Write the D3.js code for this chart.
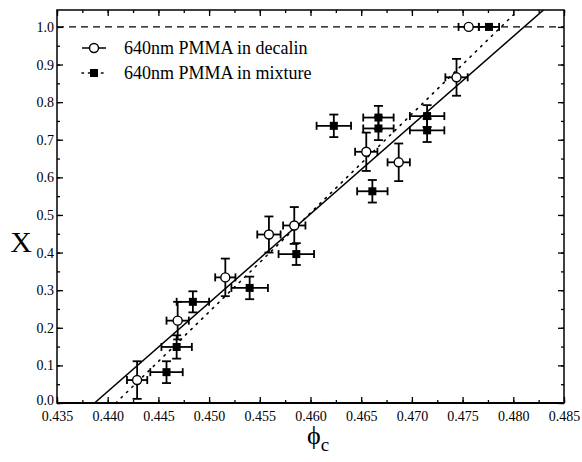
<!DOCTYPE html>
<html>
<head>
<meta charset="utf-8">
<script src="https://cdn.jsdelivr.net/npm/d3@7"></script>
<style>
  body { margin: 0; background: #fff; }
  svg { display: block; }
  svg text { font-family: "Liberation Serif", "Times New Roman", serif; }
</style>
</head>
<body>
<svg id="chart" width="582" height="462"></svg>
<script>
// open circles: 640nm PMMA in decalin
const decalinPhi    = [0.4429, 0.4469, 0.4516, 0.4559, 0.4584, 0.4655, 0.4687, 0.4744, 0.4756];
const decalinX      = [0.061, 0.219, 0.334, 0.448, 0.472, 0.668, 0.640, 0.866, 1.0];
const decalinPhiErr = [0.0010, 0.0011, 0.0010, 0.00115, 0.0011, 0.0011, 0.0011, 0.0011, 0.0010];
const decalinXErr   = [0.050, 0.050, 0.050, 0.048, 0.049, 0.051, 0.050, 0.049, 0];

// filled squares: 640nm PMMA in mixture
const mixturePhi    = [0.4458, 0.4468, 0.4484, 0.4540, 0.4586, 0.4623, 0.4661, 0.4667, 0.4667, 0.4715, 0.4715, 0.4776];
const mixtureX      = [0.082, 0.149, 0.269, 0.306, 0.396, 0.737, 0.563, 0.759, 0.730, 0.763, 0.725, 1.0];
const mixturePhiErr = [0.0016, 0.0015, 0.0016, 0.0018, 0.00175, 0.0017, 0.0015, 0.0015, 0.0015, 0.0017, 0.0017, 0.0010];
const mixtureXErr   = [0.029, 0.031, 0.028, 0.030, 0.029, 0.030, 0.030, 0.031, 0.031, 0.029, 0.031, 0];

// linear fits (end points)
const decalinFit = [[0.4387, 0], [0.4831, 1.048]];
const mixtureFit = [[0.4408, 0], [0.4805, 1.045]];

const legendLabels = ["640nm PMMA in decalin", "640nm PMMA in mixture"];
const xTicks = d3.range(0, 11).map(i => 0.435 + i * 0.005);
const yTicks = d3.range(0, 11).map(i => i / 10);

const W = 582, H = 462;
const margin = { top: 10, right: 18, bottom: 59, left: 57 };
const iw = W - margin.left - margin.right;
const ih = H - margin.top - margin.bottom;
const FONT = '"Liberation Serif", "Times New Roman", serif';

const svg = d3.select("#chart");
const g = svg.append("g").attr("transform", `translate(${margin.left},${margin.top})`);

const x = d3.scaleLinear().domain([0.435, 0.485]).range([0, iw]);
const y = d3.scaleLinear().domain([0, 1.045]).range([ih, 0]);

svg.append("defs").append("clipPath").attr("id", "plot")
  .append("rect").attr("width", iw).attr("height", ih);

const xMinor = d3.range(0, 21).map(i => 0.435 + i * 0.0025);
const yMinor = d3.range(0, 21).map(i => i * 0.05);

// axes, ticks pointing inwards
function styleAxis(sel) {
  sel.attr("font-family", FONT).attr("font-size", 14);
  sel.selectAll(".domain").remove();
  sel.selectAll("line").attr("stroke", "#000").attr("stroke-width", 1.3);
  sel.selectAll("text").attr("fill", "#000");
}

g.append("g").attr("transform", `translate(0,${ih})`)
  .call(d3.axisBottom(x).tickValues(xMinor).tickSize(-3).tickFormat(""))
  .call(styleAxis);
g.append("g").attr("transform", `translate(0,${ih})`)
  .call(d3.axisBottom(x).tickValues(xTicks).tickSize(-6).tickPadding(8).tickFormat(d3.format(".3f")))
  .call(styleAxis);
g.append("g")
  .call(d3.axisTop(x).tickValues(xMinor).tickSize(-3).tickFormat(""))
  .call(styleAxis);
g.append("g")
  .call(d3.axisTop(x).tickValues(xTicks).tickSize(-6).tickFormat(""))
  .call(styleAxis);

g.append("g")
  .call(d3.axisLeft(y).tickValues(yMinor).tickSize(-3).tickFormat(""))
  .call(styleAxis);
g.append("g")
  .call(d3.axisLeft(y).tickValues(yTicks).tickSize(-6).tickPadding(3).tickFormat(d3.format(".1f")))
  .call(styleAxis)
  .call(s => s.selectAll(".tick text").filter(d => d === 0).attr("dy", "0.1em"));
g.append("g").attr("transform", `translate(${iw},0)`)
  .call(d3.axisRight(y).tickValues(yMinor).tickSize(-3).tickFormat(""))
  .call(styleAxis);
g.append("g").attr("transform", `translate(${iw},0)`)
  .call(d3.axisRight(y).tickValues(yTicks).tickSize(-6).tickFormat(""))
  .call(styleAxis);

// frame
g.append("rect").attr("width", iw).attr("height", ih)
  .attr("fill", "none").attr("stroke", "#000").attr("stroke-width", 1.5);
g.append("line").attr("x1", 0).attr("x2", iw).attr("y1", ih).attr("y2", ih)
  .attr("stroke", "#000").attr("stroke-width", 2.2);

const plot = g.append("g").attr("clip-path", "url(#plot)");

// X = 1 reference
plot.append("line")
  .attr("x1", 0).attr("x2", iw).attr("y1", y(1)).attr("y2", y(1))
  .attr("stroke", "#000").attr("stroke-width", 1.3).attr("stroke-dasharray", "7,5");

const line = d3.line().x(d => x(d[0])).y(d => y(d[1]));
plot.append("path").attr("d", line(decalinFit))
  .attr("fill", "none").attr("stroke", "#000").attr("stroke-width", 1.5);
plot.append("path").attr("d", line(mixtureFit))
  .attr("fill", "none").attr("stroke", "#000").attr("stroke-width", 1.6)
  .attr("stroke-dasharray", "1.5,6").attr("stroke-linecap", "round");

function errorBars(phi, vals, phiErr, xErr) {
  const eg = g.append("g").attr("stroke", "#000").attr("stroke-width", 1.8).attr("fill", "none");
  phi.forEach((p, i) => {
    const cx = x(p), cy = y(vals[i]);
    const x0 = x(p - phiErr[i]), x1 = x(p + phiErr[i]);
    eg.append("line").attr("x1", x0).attr("x2", x1).attr("y1", cy).attr("y2", cy);
    eg.append("line").attr("x1", x0).attr("x2", x0).attr("y1", cy - 4).attr("y2", cy + 4);
    eg.append("line").attr("x1", x1).attr("x2", x1).attr("y1", cy - 4).attr("y2", cy + 4);
    if (xErr[i] > 0) {
      const y0 = y(vals[i] - xErr[i]), y1 = y(vals[i] + xErr[i]);
      eg.append("line").attr("x1", cx).attr("x2", cx).attr("y1", y0).attr("y2", y1);
      eg.append("line").attr("x1", cx - 4.5).attr("x2", cx + 4.5).attr("y1", y0).attr("y2", y0);
      eg.append("line").attr("x1", cx - 4.5).attr("x2", cx + 4.5).attr("y1", y1).attr("y2", y1);
    }
  });
}
errorBars(decalinPhi, decalinX, decalinPhiErr, decalinXErr);
errorBars(mixturePhi, mixtureX, mixturePhiErr, mixtureXErr);

g.append("g").selectAll("circle").data(decalinPhi).join("circle")
  .attr("cx", d => x(d)).attr("cy", (d, i) => y(decalinX[i])).attr("r", 4.5)
  .attr("fill", "#fff").attr("stroke", "#000").attr("stroke-width", 1.4);
g.append("g").selectAll("rect").data(mixturePhi).join("rect")
  .attr("x", d => x(d) - 4).attr("y", (d, i) => y(mixtureX[i]) - 4)
  .attr("width", 8).attr("height", 8).attr("fill", "#000");

// legend
const leg = svg.append("g");
const rows = [48, 73];
leg.append("line").attr("x1", 82).attr("x2", 106).attr("y1", rows[0]).attr("y2", rows[0])
  .attr("stroke", "#000").attr("stroke-width", 1.5);
leg.append("circle").attr("cx", 94).attr("cy", rows[0]).attr("r", 4.5)
  .attr("fill", "#fff").attr("stroke", "#000").attr("stroke-width", 1.4);
leg.append("line").attr("x1", 82).attr("x2", 108).attr("y1", rows[1]).attr("y2", rows[1])
  .attr("stroke", "#000").attr("stroke-width", 1.6).attr("stroke-dasharray", "1.5,5").attr("stroke-linecap", "round");
leg.append("rect").attr("x", 90).attr("y", rows[1] - 4).attr("width", 8).attr("height", 8).attr("fill", "#000");
leg.selectAll("text").data(legendLabels).join("text")
  .attr("x", 124).attr("y", (d, i) => rows[i]).attr("dy", "0.35em")
  .attr("font-family", FONT).attr("font-size", 18).attr("fill", "#000").text(d => d);

// axis titles
svg.append("text").attr("x", 21).attr("y", 252).attr("text-anchor", "middle")
  .attr("font-family", FONT).attr("font-size", 30).text("X");
const xt = svg.append("text").attr("x", 318).attr("y", 444).attr("text-anchor", "middle")
  .attr("font-family", FONT).attr("font-size", 26);
xt.append("tspan").text("\u03D5");
xt.append("tspan").attr("dy", 7).attr("font-size", 19).text("c");
</script>
</body>
</html>
